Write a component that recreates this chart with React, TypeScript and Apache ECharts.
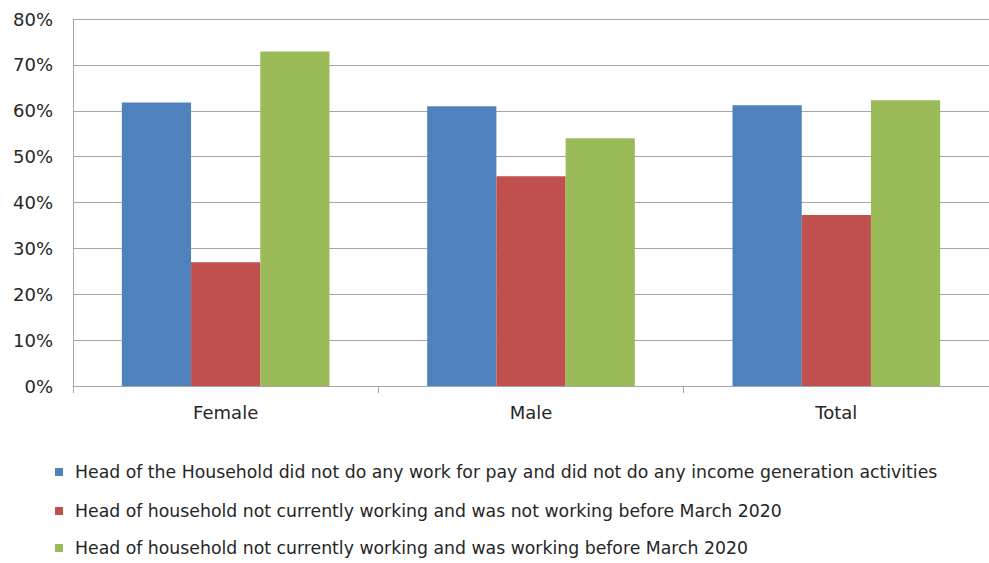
import React, { useEffect, useRef } from "react";
import * as echarts from "echarts";

const categories = ["Female", "Male", "Total"];
const seriesNames = [
  "Head of the Household did not do any work for pay and did not do any income generation activities",
  "Head of household not currently working and was not working before March 2020",
  "Head of household not currently working and was working before March 2020",
];
const noWorkValues = [61.8, 61.0, 61.2];
const notWorkingBeforeValues = [27.0, 45.7, 37.3];
const workingBeforeValues = [72.9, 54.0, 62.3];
const colors = ["#4F81BD", "#C0504D", "#9BBB59"];
const legendCenters = [472, 511, 548];

const FONT = "DejaVu Sans";

export default function App() {
  const ref = useRef<HTMLDivElement>(null);
  useEffect(() => {
    if (!ref.current) return;
    const chart = echarts.init(ref.current, undefined, { renderer: "svg" });
    const data = [noWorkValues, notWorkingBeforeValues, workingBeforeValues];
    chart.setOption({
      animation: false,
      backgroundColor: "#ffffff",
      grid: { left: 73, top: 19, width: 925, height: 367, containLabel: false },
      legend: seriesNames.map((name, i) => ({
        orient: "horizontal",
        left: 55,
        top: legendCenters[i] - 10,
        padding: 0,
        itemWidth: 8,
        itemHeight: 8,
        itemGap: 0,
        icon: "rect",
        textStyle: { fontFamily: FONT, fontSize: 17.3, color: "#262626", lineHeight: 20, padding: [0, 0, 0, 7] },
        data: [name],
      })),
      xAxis: {
        type: "category",
        data: categories,
        boundaryGap: true,
        axisLine: { lineStyle: { color: "#a6a6a6", width: 1 } },
        axisTick: { show: true, length: 7, lineStyle: { color: "#a6a6a6" } },
        axisLabel: { fontFamily: FONT, fontSize: 18, color: "#262626", margin: 17 },
      },
      yAxis: {
        type: "value",
        min: 0,
        max: 80,
        interval: 10,
        axisLine: { show: true, lineStyle: { color: "#a6a6a6" } },
        axisTick: { show: false },
        splitLine: { lineStyle: { color: "#a6a6a6", width: 1 } },
        axisLabel: { fontFamily: FONT, fontSize: 18, color: "#262626", margin: 20, formatter: "{value}%" },
      },
      series: seriesNames.map((name, i) => ({
        name,
        type: "bar",
        data: data[i],
        barGap: "0%",
        barCategoryGap: "32%",
        itemStyle: { color: colors[i] },
      })),
    });
    return () => chart.dispose();
  }, []);
  return (
    <div
      ref={ref}
      style={{ position: "fixed", left: 0, top: 0, width: 989, height: 563, background: "#fff" }}
    />
  );
}
